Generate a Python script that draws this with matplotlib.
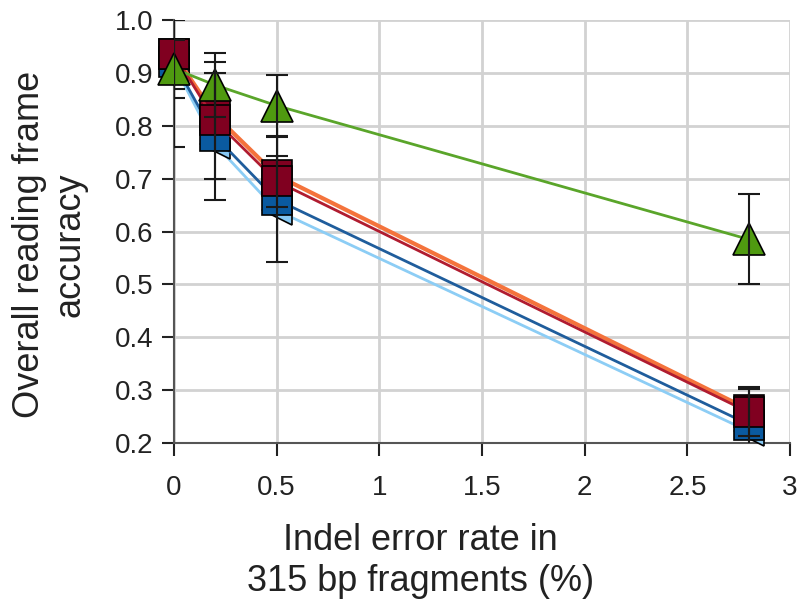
import matplotlib
matplotlib.use("Agg")
import matplotlib.pyplot as plt

plt.rcParams['font.family'] = ['Liberation Sans', 'DejaVu Sans']

x = [0, 0.2, 0.5, 2.8]
light_blue = [0.915, 0.765, 0.640, 0.222]
dark_blue = [0.920, 0.780, 0.660, 0.235]
dark_blue_err = [0.16, 0.12, 0.118, 0.07]
orange = [0.935, 0.820, 0.706, 0.263]
red = [0.935, 0.810, 0.695, 0.258]
red_err = [0.065, 0.11, 0.048, 0.045]
green = [0.908, 0.877, 0.838, 0.585]
green_err = [0.055, 0.06, 0.058, 0.085]

xticks = [0, 0.5, 1, 1.5, 2, 2.5, 3]
xticklabels = ["0", "0.5", "1", "1.5", "2", "2.5", "3"]
yticks = [0.2, 0.3, 0.4, 0.5, 0.6, 0.7, 0.8, 0.9, 1.0]
yticklabels = ["0.2", "0.3", "0.4", "0.5", "0.6", "0.7", "0.8", "0.9", "1.0"]

fig = plt.figure(figsize=(8.03, 5.99), dpi=100)
ax = fig.add_axes([0.2167, 0.2604, 0.7672, 0.7062])

ms = 21
ax.plot(x, light_blue, color='#8ccdf5', lw=2, marker='<', ms=ms,
        mfc='#86c8f4', mec='black', mew=1.2, zorder=3, clip_on=False)
ax.plot(x, dark_blue, color='#1f5d9c', lw=2, marker='s', ms=ms,
        mfc='#0a5aa0', mec='black', mew=1.2, zorder=4, clip_on=False)
ax.plot(x, orange, color='#f4733c', lw=3, marker='s', ms=ms,
        mfc='#800020', mec='black', mew=1.2, zorder=5, clip_on=False)
ax.plot(x, red, color='#b01c30', lw=2, marker='s', ms=ms,
        mfc='#800020', mec='black', mew=1.2, zorder=6, clip_on=False)
ax.plot(x, green, color='#5aa52a', lw=2, marker='^', ms=ms + 2,
        mfc='#4f9a10', mec='black', mew=1.2, zorder=7, clip_on=False)

for vals, err in [(dark_blue, dark_blue_err), (red, red_err), (green, green_err)]:
    ax.errorbar(x, vals, yerr=err, fmt='none', ecolor='#1a1a1a',
                elinewidth=1.5, capsize=8, capthick=1.5, zorder=9)

ax.set_xlim(0, 3)
ax.set_ylim(0.2, 1.0)
ax.set_xticks(xticks)
ax.set_xticklabels(xticklabels)
ax.set_yticks(yticks)
ax.set_yticklabels(yticklabels)
ax.tick_params(axis='both', labelsize=20, colors='#222222', length=9,
               width=1.5, direction='out', pad=6)
ax.tick_params(axis='x', pad=14)

ax.grid(True, color='#d2d2d2', lw=2)
ax.set_axisbelow(True)
for s in ['top', 'right']:
    ax.spines[s].set_visible(False)
for s in ['left', 'bottom']:
    ax.spines[s].set_color('#555555')
    ax.spines[s].set_linewidth(1.5)

ax.set_xlabel("Indel error rate in\n315 bp fragments (%)", fontsize=26,
              color='#222222', linespacing=1.2)
ax.xaxis.set_label_coords(0.40, -0.19)
ax.xaxis.label.set_va('top')
ax.set_ylabel("Overall reading frame\naccuracy", fontsize=26,
              color='#222222', linespacing=1.2)
ax.yaxis.set_label_coords(-0.14, 0.47)

fig.savefig("out.png", dpi=100)
